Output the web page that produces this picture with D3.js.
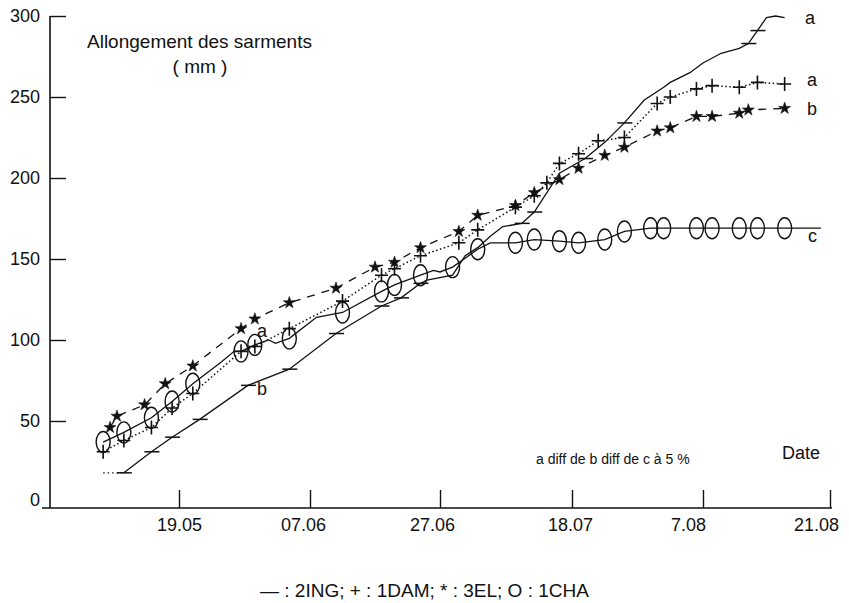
<!DOCTYPE html>
<html>
<head>
<meta charset="utf-8">
<script src="https://cdn.jsdelivr.net/npm/d3@7"></script>
<style>
  html, body { margin: 0; padding: 0; background: #fff; }
  svg { display: block; font-family: "Liberation Sans", Arial, Helvetica, sans-serif; }
</style>
</head>
<body>
<svg id="chart" width="849" height="603"></svg>
<script>
// Date axis: day of year of each labelled date
const dateTicks = [139, 158, 178, 199, 219, 233];
const dateTickLabels = ["19.05", "07.06", "27.06", "18.07", "7.08", "21.08"];
const lengthTicks = [0, 50, 100, 150, 200, 250, 300];

// 2ING — shoot length (mm); marked = a "—" symbol is drawn at that reading
const ingDays   = [128, 131, 135, 138, 142, 149, 155, 162, 169, 172, 175, 176, 180, 182, 184, 186, 188, 191, 193, 197, 201, 204, 207, 210, 213, 214, 217, 219, 221, 223, 224, 225, 226, 227, 228];
const ingValues = [18, 18, 31, 40, 51, 72, 82, 104, 121, 126, 135, 137, 140, 152, 157, 164, 170, 172, 179, 203, 212, 222, 234, 248, 256, 259, 265, 271, 277, 280, 283, 291, 299, 300, 299];
const ingMarked = [0, 1, 1, 1, 1, 1, 1, 1, 1, 1, 1, 0, 0, 0, 0, 0, 0, 1, 1, 0, 1, 0, 1, 0, 0, 0, 0, 0, 0, 0, 1, 1, 0, 0, 0];

// 1CHA — "O"
const chaDays   = [128, 131, 135, 138, 141, 145, 147, 148, 150, 152, 153, 155, 159, 163, 169, 171, 175, 177, 178, 180, 184, 186, 190, 193, 197, 200, 204, 207, 211, 213, 218, 220, 223, 225, 228, 232];
const chaValues = [37, 43, 52, 62, 73, 86, 93, 93, 97, 100, 98, 101, 114, 117, 130, 134, 140, 143, 142, 145, 156, 160, 160, 162, 161, 160, 162, 167, 169, 169, 169, 169, 169, 169, 169, 169];
const chaMarked = [1, 1, 1, 1, 1, 0, 0, 1, 1, 0, 0, 1, 0, 1, 1, 1, 1, 0, 0, 1, 1, 0, 1, 1, 1, 1, 1, 1, 1, 1, 1, 1, 1, 1, 1, 0];

// 1DAM — "+"
const damDays   = [128, 131, 135, 138, 141, 148, 150, 155, 163, 169, 171, 175, 181, 184, 190, 193, 195, 197, 200, 203, 207, 212, 214, 218, 220, 223, 225, 228];
const damValues = [31, 38, 46, 58, 67, 93, 96, 107, 124, 140, 144, 152, 160, 168, 182, 189, 197, 209, 215, 223, 225, 246, 250, 255, 257, 256, 259, 258];

// 3EL — "*"
const elDays   = [129, 130, 134, 137, 141, 148, 150, 155, 162, 168, 171, 175, 181, 184, 190, 193, 197, 200, 204, 207, 212, 214, 218, 220, 223, 224, 228];
const elValues = [46, 53, 60, 73, 84, 107, 113, 123, 132, 145, 148, 157, 167, 177, 183, 191, 199, 206, 214, 219, 229, 231, 238, 238, 240, 242, 243];

const svg = d3.select("#chart");

// Tick dates are evenly spaced along the axis, so the date scale is piecewise linear
const x = d3.scaleLinear()
  .domain(dateTicks)
  .range([179, 310, 440, 572, 703, 830]);
const y = d3.scaleLinear().domain([0, 300]).range([502, 16]);

const axisY = 508;
const ink = "#111";
// the typed date labels sit a little left of their ticks
const labelShift = [0, -7, -8, -2, -15, -14];

// ---- axes ----
const gx = svg.append("g").attr("transform", `translate(0,${axisY})`)
  .call(d3.axisBottom(x).tickValues(dateTicks)
    .tickFormat((d, i) => dateTickLabels[i])
    .tickSizeInner(-18).tickSizeOuter(0).tickPadding(10));
gx.select(".domain").remove();
gx.selectAll(".tick line").attr("stroke", ink).attr("stroke-width", 1.4);
gx.selectAll(".tick text").attr("fill", ink).attr("font-size", 18)
  .attr("font-family", "Liberation Sans, Arial, sans-serif")
  .attr("dx", (d, i) => labelShift[i]);

const gy = svg.append("g").attr("transform", "translate(50,0)")
  .call(d3.axisLeft(y).tickValues(lengthTicks)
    .tickSizeInner(-16).tickSizeOuter(0).tickPadding(10));
gy.select(".domain").remove();
gy.selectAll(".tick line").attr("stroke", ink).attr("stroke-width", 1.4)
  .attr("display", d => d === 0 ? "none" : null);
gy.selectAll(".tick text").attr("fill", ink).attr("font-size", 18)
  .attr("font-family", "Liberation Sans, Arial, sans-serif");
gy.selectAll(".tick").filter(d => d === 0).select("text").attr("dy", "0.2em");

svg.append("line").attr("x1", 50).attr("x2", 50).attr("y1", y(300)).attr("y2", axisY)
  .attr("stroke", ink).attr("stroke-width", 1.6);
svg.append("line").attr("x1", 42).attr("x2", 832).attr("y1", axisY).attr("y2", axisY)
  .attr("stroke", ink).attr("stroke-width", 1.6);

// ---- series ----
const zip = (days, vals, marks) => days.map((d, i) => ({ day: d, v: vals[i], mark: marks ? marks[i] : 1 }));
const ing = zip(ingDays, ingValues, ingMarked);
const cha = zip(chaDays, chaValues, chaMarked);
const dam = zip(damDays, damValues);
const el  = zip(elDays, elValues);

const line = d3.line().x(d => x(d.day)).y(d => y(d.v));
const plot = svg.append("g").attr("fill", "none").attr("stroke", ink);

// 2ING: short dotted lead-in, then solid
plot.append("path").attr("d", line(ing.slice(0, 2)))
  .attr("stroke-width", 1.3).attr("stroke-dasharray", "1.5,3");
plot.append("path").attr("d", line(ing.slice(1))).attr("stroke-width", 1.3);
// 1CHA solid
plot.append("path").attr("d", line(cha)).attr("stroke-width", 1.3);
// 1DAM dotted
plot.append("path").attr("d", line(dam)).attr("stroke-width", 1.5).attr("stroke-dasharray", "1.5,2.5");
// 3EL dashed
plot.append("path").attr("d", line(el)).attr("stroke-width", 1.3).attr("stroke-dasharray", "8,7");

// markers
const marks = svg.append("g");
marks.selectAll(".dash").data(ing.filter(d => d.mark)).join("line")
  .attr("x1", d => x(d.day) - 7).attr("x2", d => x(d.day) + 8)
  .attr("y1", d => y(d.v)).attr("y2", d => y(d.v))
  .attr("stroke", ink).attr("stroke-width", 1.5);

marks.selectAll(".ell").data(cha.filter(d => d.mark)).join("ellipse")
  .attr("cx", d => x(d.day)).attr("cy", d => y(d.v))
  .attr("rx", 7).attr("ry", 10.5)
  .attr("fill", "none").attr("stroke", ink).attr("stroke-width", 1.4);

marks.selectAll(".plus").data(dam).join("path")
  .attr("transform", d => `translate(${x(d.day)},${y(d.v)})`)
  .attr("d", "M-6.5,0H6.5M0,-7V7")
  .attr("stroke", ink).attr("stroke-width", 1.6).attr("fill", "none");

const star = d3.symbol(d3.symbolStar).size(44);
marks.selectAll(".star").data(el).join("path")
  .attr("transform", d => `translate(${x(d.day)},${y(d.v)})`)
  .attr("d", star)
  .attr("fill", ink).attr("stroke", ink).attr("stroke-width", 0.6);

// ---- texts ----
const txt = (s, px, py, size, anchor) => svg.append("text")
  .attr("x", px).attr("y", py).attr("font-size", size)
  .attr("text-anchor", anchor || "start").attr("fill", ink).text(s);

txt("Allongement des sarments", 87, 48, 19);
txt("( mm )", 200, 73, 19, "middle");
txt("Date", 782, 459, 18);
txt("a diff de b diff de c à 5 %", 536, 464, 14);
txt("— : 2ING; + : 1DAM; * : 3EL; O : 1CHA", 260, 597, 19);

// significance letters at the end of each curve and at early June
txt("a", 805, 24, 18);
txt("a", 807, 86, 18);
txt("b", 807, 115, 18);
txt("c", 808, 242, 18);
txt("a", 257, 337, 18);
txt("b", 257, 395, 18);
</script>
</body>
</html>
